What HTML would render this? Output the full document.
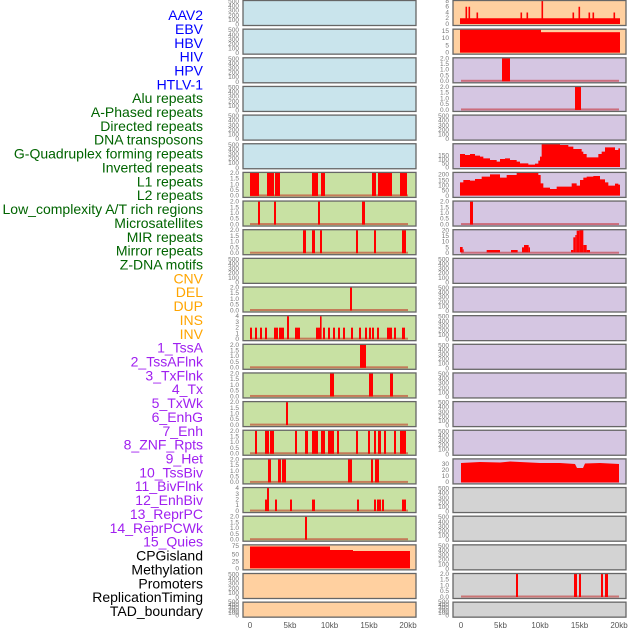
<!DOCTYPE html>
<html><head><meta charset="utf-8"><style>
html,body{margin:0;padding:0;background:#fff;}
svg{display:block;font-family:"Liberation Sans",sans-serif;}
.lb{font-size:14px;text-anchor:end;}
.t text{font-size:6.5px;fill:#777;text-anchor:end;}
.x{font-size:8px;fill:#555;text-anchor:middle;}
</style></head><body>
<svg id="s" width="630" height="630" viewBox="0 0 630 630" xmlns="http://www.w3.org/2000/svg">
<g id="bg"></g><g id="dat"></g><g id="brd"></g>
<g class="lb">
<text x="203" y="20" fill="#0000ff">AAV2</text>
<text x="203" y="34" fill="#0000ff">EBV</text>
<text x="203" y="48" fill="#0000ff">HBV</text>
<text x="203" y="61.6" fill="#0000ff">HIV</text>
<text x="203" y="75.4" fill="#0000ff">HPV</text>
<text x="203" y="89.3" fill="#0000ff">HTLV-1</text>
<text x="203" y="103.2" fill="#006400">Alu repeats</text>
<text x="203" y="117" fill="#006400">A-Phased repeats</text>
<text x="203" y="130.9" fill="#006400">Directed repeats</text>
<text x="203" y="144.7" fill="#006400">DNA transposons</text>
<text x="203" y="158.6" fill="#006400">G-Quadruplex forming repeats</text>
<text x="203" y="172.5" fill="#006400">Inverted repeats</text>
<text x="203" y="186.3" fill="#006400">L1 repeats</text>
<text x="203" y="200.2" fill="#006400">L2 repeats</text>
<text x="203" y="214" fill="#006400">Low_complexity A/T rich regions</text>
<text x="203" y="227.9" fill="#006400">Microsatellites</text>
<text x="203" y="241.8" fill="#006400">MIR repeats</text>
<text x="203" y="255.6" fill="#006400">Mirror repeats</text>
<text x="203" y="269.5" fill="#006400">Z-DNA motifs</text>
<text x="203" y="283.3" fill="#ffa500">CNV</text>
<text x="203" y="297.2" fill="#ffa500">DEL</text>
<text x="203" y="311.1" fill="#ffa500">DUP</text>
<text x="203" y="324.9" fill="#ffa500">INS</text>
<text x="203" y="338.8" fill="#ffa500">INV</text>
<text x="203" y="352.6" fill="#a020f0">1_TssA</text>
<text x="203" y="366.5" fill="#a020f0">2_TssAFlnk</text>
<text x="203" y="380.4" fill="#a020f0">3_TxFlnk</text>
<text x="203" y="394.2" fill="#a020f0">4_Tx</text>
<text x="203" y="408.1" fill="#a020f0">5_TxWk</text>
<text x="203" y="421.9" fill="#a020f0">6_EnhG</text>
<text x="203" y="435.8" fill="#a020f0">7_Enh</text>
<text x="203" y="449.7" fill="#a020f0">8_ZNF_Rpts</text>
<text x="203" y="463.5" fill="#a020f0">9_Het</text>
<text x="203" y="477.4" fill="#a020f0">10_TssBiv</text>
<text x="203" y="491.2" fill="#a020f0">11_BivFlnk</text>
<text x="203" y="505.1" fill="#a020f0">12_EnhBiv</text>
<text x="203" y="519" fill="#a020f0">13_ReprPC</text>
<text x="203" y="532.8" fill="#a020f0">14_ReprPCWk</text>
<text x="203" y="546.7" fill="#a020f0">15_Quies</text>
<text x="203" y="560.5" fill="#000">CPGisland</text>
<text x="203" y="574.4" fill="#000">Methylation</text>
<text x="203" y="588.3" fill="#000">Promoters</text>
<text x="203" y="602.1" fill="#000">ReplicationTiming</text>
<text x="203" y="616" fill="#000">TAD_boundary</text>
</g>
<!-- left ticks -->
<g class="t">
<g transform="translate(239,0.5)"><text y="26">0</text><text y="21.4">100</text><text y="16.8">200</text><text y="12.2">300</text><text y="7.6">400</text><text y="3">500</text></g>
<g transform="translate(239,29.2)"><text y="26">0</text><text y="21.4">100</text><text y="16.8">200</text><text y="12.2">300</text><text y="7.6">400</text><text y="3">500</text></g>
<g transform="translate(239,57.8)"><text y="26">0</text><text y="21.4">100</text><text y="16.8">200</text><text y="12.2">300</text><text y="7.6">400</text><text y="3">500</text></g>
<g transform="translate(239,86.5)"><text y="26">0</text><text y="21.4">100</text><text y="16.8">200</text><text y="12.2">300</text><text y="7.6">400</text><text y="3">500</text></g>
<g transform="translate(239,115.1)"><text y="26">0</text><text y="21.4">100</text><text y="16.8">200</text><text y="12.2">300</text><text y="7.6">400</text><text y="3">500</text></g>
<g transform="translate(239,143.8)"><text y="26">0</text><text y="21.4">100</text><text y="16.8">200</text><text y="12.2">300</text><text y="7.6">400</text><text y="3">500</text></g>
<g transform="translate(239,172.4)"><text y="25.3">0.0</text><text y="19.6">0.5</text><text y="13.9">1.0</text><text y="8.2">1.5</text><text y="2.5">2.0</text></g>
<g transform="translate(239,201.1)"><text y="25.3">0.0</text><text y="19.6">0.5</text><text y="13.9">1.0</text><text y="8.2">1.5</text><text y="2.5">2.0</text></g>
<g transform="translate(239,229.7)"><text y="25.3">0.0</text><text y="19.6">0.5</text><text y="13.9">1.0</text><text y="8.2">1.5</text><text y="2.5">2.0</text></g>
<g transform="translate(239,258.4)"><text y="26">0</text><text y="21.4">100</text><text y="16.8">200</text><text y="12.2">300</text><text y="7.6">400</text><text y="3">500</text></g>
<g transform="translate(239,287)"><text y="25.3">0.0</text><text y="19.6">0.5</text><text y="13.9">1.0</text><text y="8.2">1.5</text><text y="2.5">2.0</text></g>
<g transform="translate(239,315.7)"><text y="25.3">0</text><text y="19.6">1</text><text y="13.9">2</text><text y="8.2">3</text><text y="2.5">4</text></g>
<g transform="translate(239,344.3)"><text y="25.3">0.0</text><text y="19.6">0.5</text><text y="13.9">1.0</text><text y="8.2">1.5</text><text y="2.5">2.0</text></g>
<g transform="translate(239,373)"><text y="25.3">0.0</text><text y="19.6">0.5</text><text y="13.9">1.0</text><text y="8.2">1.5</text><text y="2.5">2.0</text></g>
<g transform="translate(239,401.6)"><text y="25.3">0.0</text><text y="19.6">0.5</text><text y="13.9">1.0</text><text y="8.2">1.5</text><text y="2.5">2.0</text></g>
<g transform="translate(239,430.3)"><text y="25.3">0.0</text><text y="19.6">0.5</text><text y="13.9">1.0</text><text y="8.2">1.5</text><text y="2.5">2.0</text></g>
<g transform="translate(239,458.9)"><text y="25.3">0.0</text><text y="19.6">0.5</text><text y="13.9">1.0</text><text y="8.2">1.5</text><text y="2.5">2.0</text></g>
<g transform="translate(239,487.6)"><text y="25.3">0</text><text y="19.6">1</text><text y="13.9">2</text><text y="8.2">3</text><text y="2.5">4</text></g>
<g transform="translate(239,516.2)"><text y="25.3">0.0</text><text y="19.6">0.5</text><text y="13.9">1.0</text><text y="8.2">1.5</text><text y="2.5">2.0</text></g>
<g transform="translate(239,544.9)"><text y="25.7">0</text><text y="18.7">25</text><text y="11.4">50</text><text y="3.1">75</text></g>
<g transform="translate(239,573.5)"><text y="26">0</text><text y="21.4">100</text><text y="16.8">200</text><text y="12.2">300</text><text y="7.6">400</text><text y="3">500</text></g>
<g transform="translate(239,602.2)"><text y="15.5">0</text><text y="12.8">100</text><text y="10.1">200</text><text y="7.4">300</text><text y="4.7">400</text><text y="2">500</text></g>
</g>
<!-- right ticks -->
<g class="t">
<g transform="translate(449,0.5)"><text y="25.3">0</text><text y="19.6">2</text><text y="13.9">4</text><text y="8.2">6</text><text y="2.5">8</text></g>
<g transform="translate(449,29.2)"><text y="25.5">0</text><text y="18.3">5</text><text y="11">10</text><text y="4">15</text></g>
<g transform="translate(449,57.8)"><text y="25.3">0.0</text><text y="19.6">0.5</text><text y="13.9">1.0</text><text y="8.2">1.5</text><text y="2.5">2.0</text></g>
<g transform="translate(449,86.5)"><text y="25.3">0.0</text><text y="19.6">0.5</text><text y="13.9">1.0</text><text y="8.2">1.5</text><text y="2.5">2.0</text></g>
<g transform="translate(449,115.1)"><text y="26">0</text><text y="21.4">100</text><text y="16.8">200</text><text y="12.2">300</text><text y="7.6">400</text><text y="3">500</text></g>
<g transform="translate(449,143.8)"><text y="25.5">0</text><text y="21.5">50</text><text y="17.5">100</text><text y="13.5">150</text></g>
<g transform="translate(449,172.4)"><text y="25.6">0</text><text y="20.2">50</text><text y="14.9">100</text><text y="9.9">150</text><text y="4.2">200</text></g>
<g transform="translate(449,201.1)"><text y="25.3">0.0</text><text y="19.6">0.5</text><text y="13.9">1.0</text><text y="8.2">1.5</text><text y="2.5">2.0</text></g>
<g transform="translate(449,229.7)"><text y="25.3">0</text><text y="19.6">5</text><text y="13.9">10</text><text y="8.3">15</text><text y="2.6">20</text></g>
<g transform="translate(449,258.4)"><text y="26">0</text><text y="21.4">100</text><text y="16.8">200</text><text y="12.2">300</text><text y="7.6">400</text><text y="3">500</text></g>
<g transform="translate(449,287)"><text y="26">0</text><text y="21.4">100</text><text y="16.8">200</text><text y="12.2">300</text><text y="7.6">400</text><text y="3">500</text></g>
<g transform="translate(449,315.7)"><text y="26">0</text><text y="21.4">100</text><text y="16.8">200</text><text y="12.2">300</text><text y="7.6">400</text><text y="3">500</text></g>
<g transform="translate(449,344.3)"><text y="26">0</text><text y="21.4">100</text><text y="16.8">200</text><text y="12.2">300</text><text y="7.6">400</text><text y="3">500</text></g>
<g transform="translate(449,373)"><text y="26">0</text><text y="21.4">100</text><text y="16.8">200</text><text y="12.2">300</text><text y="7.6">400</text><text y="3">500</text></g>
<g transform="translate(449,401.6)"><text y="26">0</text><text y="21.4">100</text><text y="16.8">200</text><text y="12.2">300</text><text y="7.6">400</text><text y="3">500</text></g>
<g transform="translate(449,430.3)"><text y="26">0</text><text y="21.4">100</text><text y="16.8">200</text><text y="12.2">300</text><text y="7.6">400</text><text y="3">500</text></g>
<g transform="translate(449,458.9)"><text y="25.3">0</text><text y="19.3">10</text><text y="13.3">20</text><text y="7.3">30</text></g>
<g transform="translate(449,487.6)"><text y="26">0</text><text y="21.4">100</text><text y="16.8">200</text><text y="12.2">300</text><text y="7.6">400</text><text y="3">500</text></g>
<g transform="translate(449,516.2)"><text y="26">0</text><text y="21.4">100</text><text y="16.8">200</text><text y="12.2">300</text><text y="7.6">400</text><text y="3">500</text></g>
<g transform="translate(449,544.9)"><text y="26">0</text><text y="21.4">100</text><text y="16.8">200</text><text y="12.2">300</text><text y="7.6">400</text><text y="3">500</text></g>
<g transform="translate(449,573.5)"><text y="25.3">0.0</text><text y="19.6">0.5</text><text y="13.9">1.0</text><text y="8.2">1.5</text><text y="2.5">2.0</text></g>
<g transform="translate(449,602.2)"><text y="15.5">0</text><text y="12.8">100</text><text y="10.1">200</text><text y="7.4">300</text><text y="4.7">400</text><text y="2">500</text></g>
</g>
<g class="x">
<text x="250" y="628">0</text><text x="290" y="628">5kb</text><text x="329.5" y="628">10kb</text><text x="369" y="628">15kb</text><text x="408" y="628">20kb</text>
<text x="461" y="628">0</text><text x="500.5" y="628">5kb</text><text x="540" y="628">10kb</text><text x="579.5" y="628">15kb</text><text x="619" y="628">20kb</text>
</g>
</svg>
<script>
(function(){
var NS="http://www.w3.org/2000/svg";
function el(g,n,a){var e=document.createElementNS(NS,n);for(var k in a)e.setAttribute(k,a[k]);document.getElementById(g).appendChild(e);return e;}
function T(r){return r*28.65+0.5;}
function H(r){return r==21?15:25;}
var BL="#c9e4ec",GR="#c8e1a3",OR="#ffd0a0",PU="#d5c6e2",GY="#d3d3d3";
for(var r=0;r<22;r++){
 var lc=r<6?BL:(r<19?GR:OR);
 var rc=r<2?OR:(r<17?PU:GY);
 el("bg","rect",{x:243,y:T(r),width:173,height:H(r),fill:lc});
 el("bg","rect",{x:453,y:T(r),width:173,height:H(r),fill:rc});
 el("brd","rect",{x:243,y:T(r),width:173,height:H(r),fill:"none",stroke:"#666","stroke-width":1.3});
 el("brd","rect",{x:453,y:T(r),width:173,height:H(r),fill:"none",stroke:"#666","stroke-width":1.3});
}
function bot(r){return T(r)+23.5;}
function bar(r,x0,x1,f){if(f===undefined)f=1;var b=bot(r),h=23*f;el("dat","rect",{x:x0,y:b-h,width:Math.max(x1-x0,1.6),height:h,fill:"#ff0000"});}
function base(r,right){el("dat","rect",{x:right?461:250,y:bot(r)-1.5,width:158,height:2,fill:"rgba(190,0,0,0.45)"});}
function poly(pts){el("dat","polygon",{points:pts.map(function(p){return p[0]+","+p[1];}).join(" "),fill:"#ff0000"});}
var L={6:[[250,259],[267,274],[275,280],[312,318],[321,325],[372,376],[378,392],[400,407]],
7:[[258,260],[274,276],[318,320],[362,365]],
8:[[303,306],[312,315],[320,322],[356,358],[374,376],[402,406]],
10:[[350,352]],
12:[[360,366]],
13:[[330,334],[369,373],[390,393]],
14:[[286,288]],
15:[[255,257],[265,269],[270,274],[295,297],[305,308],[312,318],[321,325],[328,334],[337,339],[356,358],[368,370],[374,376],[378,381],[384,386],[394,396],[400,406]],
16:[[268,271],[278,281],[282,286],[348,352],[371,373],[375,379]],
18:[[305,307]]};
[6,7,8,10,11,12,13,14,15,16,17,18].forEach(function(r){base(r,false);});
for(var k in L)L[k].forEach(function(b){bar(+k,b[0],b[1]);});
// INS
[[250,252],[255,257],[260,262],[265,267],[274,278],[279,284],[295,300],[316,320],[323,325],[328,330],[333,335],[338,340],[343,345],[351,353],[359,361],[365,367],[369,371],[372,374],[377,379],[387,392],[394,396],[402,405]].forEach(function(b){bar(11,b[0],b[1],0.5);});
bar(11,287,289,1);bar(11,320,321.5,1);
// row17 0-4
bar(17,265,269,0.5);bar(17,267,269,1);
[[275,277],[290,292],[312,315],[357,359],[374,376],[377,381],[382,384],[402,406]].forEach(function(b){bar(17,b[0],b[1],0.5);});
// CPG
poly([[250,568.4],[250,546.5],[330,546.5],[330,550],[353,550],[353,551],[410,551],[410,568.4]]);
// right
base(2,true);base(3,true);base(7,true);base(8,true);base(20,true);
bar(0,460,620,0.25);
[[465.5,467,.75],[468.5,470,.75],[476.5,478,.5],[520.5,522,.5],[526.5,528,.5],[541.5,543,1],[572.5,574,.5],[578.5,580,.75],[588.5,590,.5],[592.5,594,.5],[613.5,615,.5]].forEach(function(b){bar(0,b[0],b[1],b[2]);});
bar(1,460,541,1);bar(1,541,620,0.89);
bar(2,502,510);bar(3,575,581);bar(7,470,473);
[[516,518],[574,577],[579,581],[601,603],[605,608]].forEach(function(b){bar(20,b[0],b[1]);});
function curve(z,zb){var pts=[[420+z[0][0]/3,140+zb/3]];z.forEach(function(p){pts.push([420+p[0]/3,140+Math.max(p[1],10)/3]);});pts.push([420+z[z.length-1][0]/3,140+zb/3]);poly(pts);}
function step(z,zb){var pts=[];z.forEach(function(p,i){var x1=(i+1<z.length)?z[i+1][0]:600;pts.push([p[0],p[1]],[x1,p[1]]);});curve(pts,zb);}
step([[120,42],[135,45],[150,42],[165,47],[180,50],[190,55],[210,60],[230,65],[240,57],[255,55],[270,60],[290,65],[300,70],[325,74],[345,71],[355,62],[360,50],[365,10],[400,8],[420,15],[445,20],[460,27],[475,27],[485,35],[490,42],[500,52],[520,52],[535,42],[545,35],[555,22],[575,22],[585,30],[595,25]],81);
step([[120,127],[130,120],[150,122],[165,117],[185,110],[210,103],[240,113],[260,105],[290,97],[345,97],[355,105],[362,130],[370,143],[390,147],[410,140],[440,140],[455,130],[470,137],[480,120],[490,113],[500,110],[520,108],[540,118],[555,127],[565,137],[575,137],[585,131],[595,134]],167);
[[120,128,321],[128,131,328],[200,240,330],[273,293,330],[306,312,322],[312,326,315],[326,330,322],[453,460,330],[460,466,292],[466,470,285],[470,478,272],[478,490,268],[490,500,315],[500,510,330]].forEach(function(b){var x0=420+b[0]/3,x1=420+b[1]/3,y=140+b[2]/3,bt=140+337/3;el("dat","rect",{x:x0,y:y,width:x1-x0,height:bt-y,fill:"#ff0000"});});
poly([[461,482.5],[461,463],[480,462],[500,462.5],[510,461.5],[520,462],[540,463],[560,463],[575,464],[577,468],[583,468],[585,463.5],[600,463],[619,464],[619,482.5]]);
})();
</script>
</body></html>
